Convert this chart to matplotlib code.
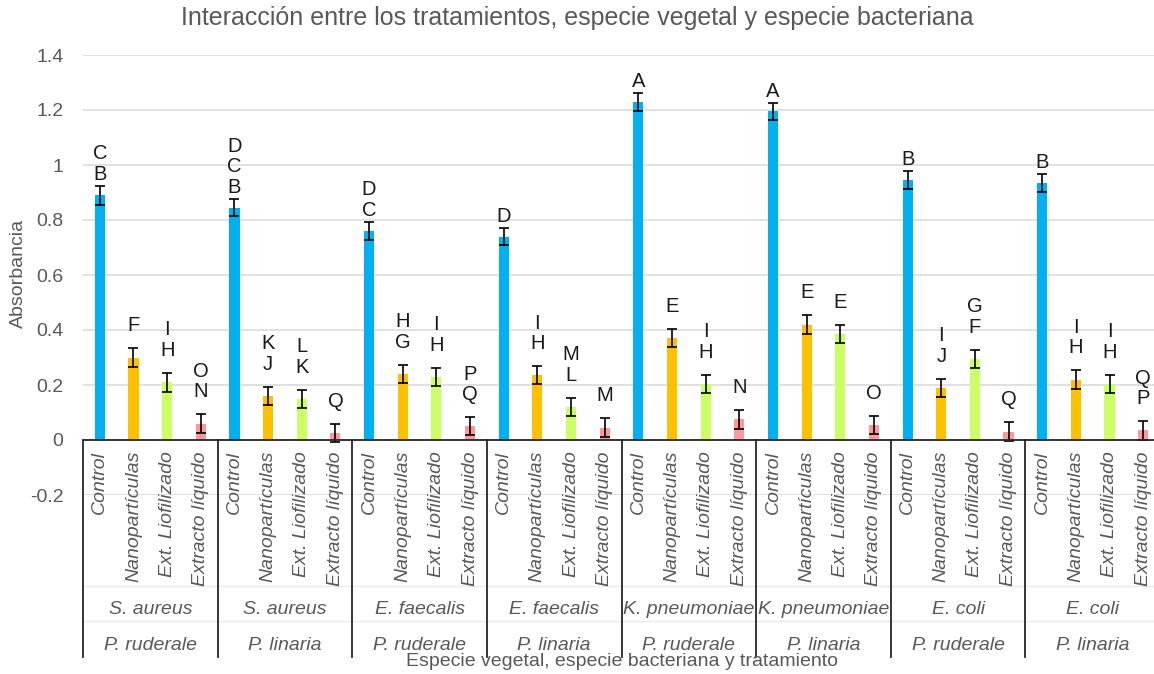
import matplotlib
matplotlib.use("Agg")
import matplotlib.pyplot as plt
import numpy as np

plt.rcParams["font.family"] = ["Liberation Sans", "DejaVu Sans"]

# Treatments, bacterial species and plant species (category levels)
treatments = ["Control", "Nanopartículas", "Ext. Liofilizado", "Extracto líquido"]
bacteria = ["S. aureus", "S. aureus", "E. faecalis", "E. faecalis",
            "K. pneumoniae", "K. pneumoniae", "E. coli", "E. coli"]
plants = ["P. ruderale", "P. linaria", "P. ruderale", "P. linaria",
          "P. ruderale", "P. linaria", "P. ruderale", "P. linaria"]

# Absorbance per group, one list per treatment
control = [0.89, 0.845, 0.76, 0.74, 1.23, 1.195, 0.945, 0.935]
nano = [0.30, 0.16, 0.24, 0.235, 0.37, 0.42, 0.19, 0.22]
lyoph = [0.21, 0.15, 0.23, 0.12, 0.205, 0.385, 0.295, 0.205]
liquid = [0.06, 0.025, 0.05, 0.045, 0.075, 0.055, 0.03, 0.035]

err_control = [0.034, 0.032, 0.033, 0.032, 0.033, 0.032, 0.032, 0.033]
err_nano = [0.033, 0.033, 0.033, 0.033, 0.033, 0.034, 0.033, 0.033]
err_lyoph = [0.034, 0.033, 0.033, 0.033, 0.033, 0.033, 0.033, 0.033]
err_liquid = [0.034, 0.034, 0.033, 0.034, 0.035, 0.033, 0.034, 0.034]

# Significance letters (top line first)
let_control = ["C\nB", "D\nC\nB", "D\nC", "D", "A", "A", "B", "B"]
let_nano = ["F", "K\nJ", "H\nG", "I\nH", "E", "E", "I\nJ", "I\nH"]
let_lyoph = ["I\nH", "L\nK", "I\nH", "M\nL", "I\nH", "E", "G\nF", "I\nH"]
let_liquid = ["O\nN", "Q", "P\nQ", "M", "N", "O", "Q", "Q\nP"]

series = [control, nano, lyoph, liquid]
errors = [err_control, err_nano, err_lyoph, err_liquid]
letters = [let_control, let_nano, let_lyoph, let_liquid]
colors = ["#00B0F0", "#FFC000", "#CCFF66", "#FF9999"]
label_gap = [6, 17, 17, 17]  # pixels between error cap and letters

grey = "#595959"
fig = plt.figure(figsize=(11.54, 6.74), dpi=100)
ax = fig.add_axes([83 / 1154, 179 / 674, 1077 / 1154, 440 / 674])

n_groups = len(bacteria)
n_treat = len(treatments)
for t in range(n_treat):
    xs = np.arange(n_groups) * n_treat + t
    ax.bar(xs, series[t], width=0.3, color=colors[t], zorder=3)
    ax.errorbar(xs, series[t], yerr=errors[t], fmt="none", ecolor="black",
                elinewidth=1.2, capsize=3.5, capthick=1.2, zorder=4)
    for x, v, e, lab in zip(xs, series[t], errors[t], letters[t]):
        ax.annotate(lab, (x, v + e), xytext=(0, label_gap[t] * 0.72),
                    textcoords="offset points", ha="center", va="baseline",
                    fontsize=14.5, linespacing=1.1, color="#1a1a1a", zorder=5)

ax.set_xlim(-0.5, n_groups * n_treat - 0.5)
ax.set_ylim(-0.2, 1.4)
yt = [-0.2, 0, 0.2, 0.4, 0.6, 0.8, 1, 1.2, 1.4]
ax.set_yticks(yt)
ax.set_yticklabels([f"{v:g}" for v in yt], color=grey, fontsize=14)
ax.tick_params(axis="y", length=0, pad=14)
ax.set_xticks([])
ax.grid(axis="y", color="#d9d9d9", linewidth=1.1, zorder=0)
for s in ax.spines.values():
    s.set_visible(False)
ax.axhline(0, color="#262626", linewidth=1.3, zorder=6)

# Multi-level category axis below y = 0 (in data units, 275 px per unit)
def py(pix):
    return (440 - pix) / 275.0

for g in range(n_groups + 1):
    xg = g * n_treat - 0.5
    ax.plot([xg, xg], [0, py(657)], color="#262626", linewidth=1.3,
            clip_on=False, zorder=6)
for ypix in (586, 621):
    ax.plot([-0.5, n_groups * n_treat - 0.5], [py(ypix), py(ypix)],
            color="#ebebeb", linewidth=1.0, clip_on=False, zorder=1)

for g in range(n_groups):
    for t in range(n_treat):
        ax.text(g * n_treat + t, py(451), treatments[t], rotation=90,
                ha="center", va="top", fontsize=14, style="italic",
                color=grey)
    xc = g * n_treat + (n_treat - 1) / 2
    ax.text(xc, py(610), bacteria[g], ha="center", va="center",
            fontsize=14, style="italic", color=grey)
    ax.text(xc, py(645), plants[g], ha="center", va="center",
            fontsize=14, style="italic", color=grey)

fig.text(18.5 / 1154, 1 - 273 / 674, "Absorbancia", rotation=90,
         ha="center", va="center", fontsize=14, color=grey)
fig.text(0.5, 1 - 18 / 674, "Interacción entre los tratamientos, especie vegetal y especie bacteriana",
         ha="center", va="center", fontsize=18, color=grey)
fig.text(622 / 1154, 1 - 662 / 674, "Especie vegetal, especie bacteriana y tratamiento",
         ha="center", va="center", fontsize=14, color=grey)

fig.savefig("out.png", dpi=100)
